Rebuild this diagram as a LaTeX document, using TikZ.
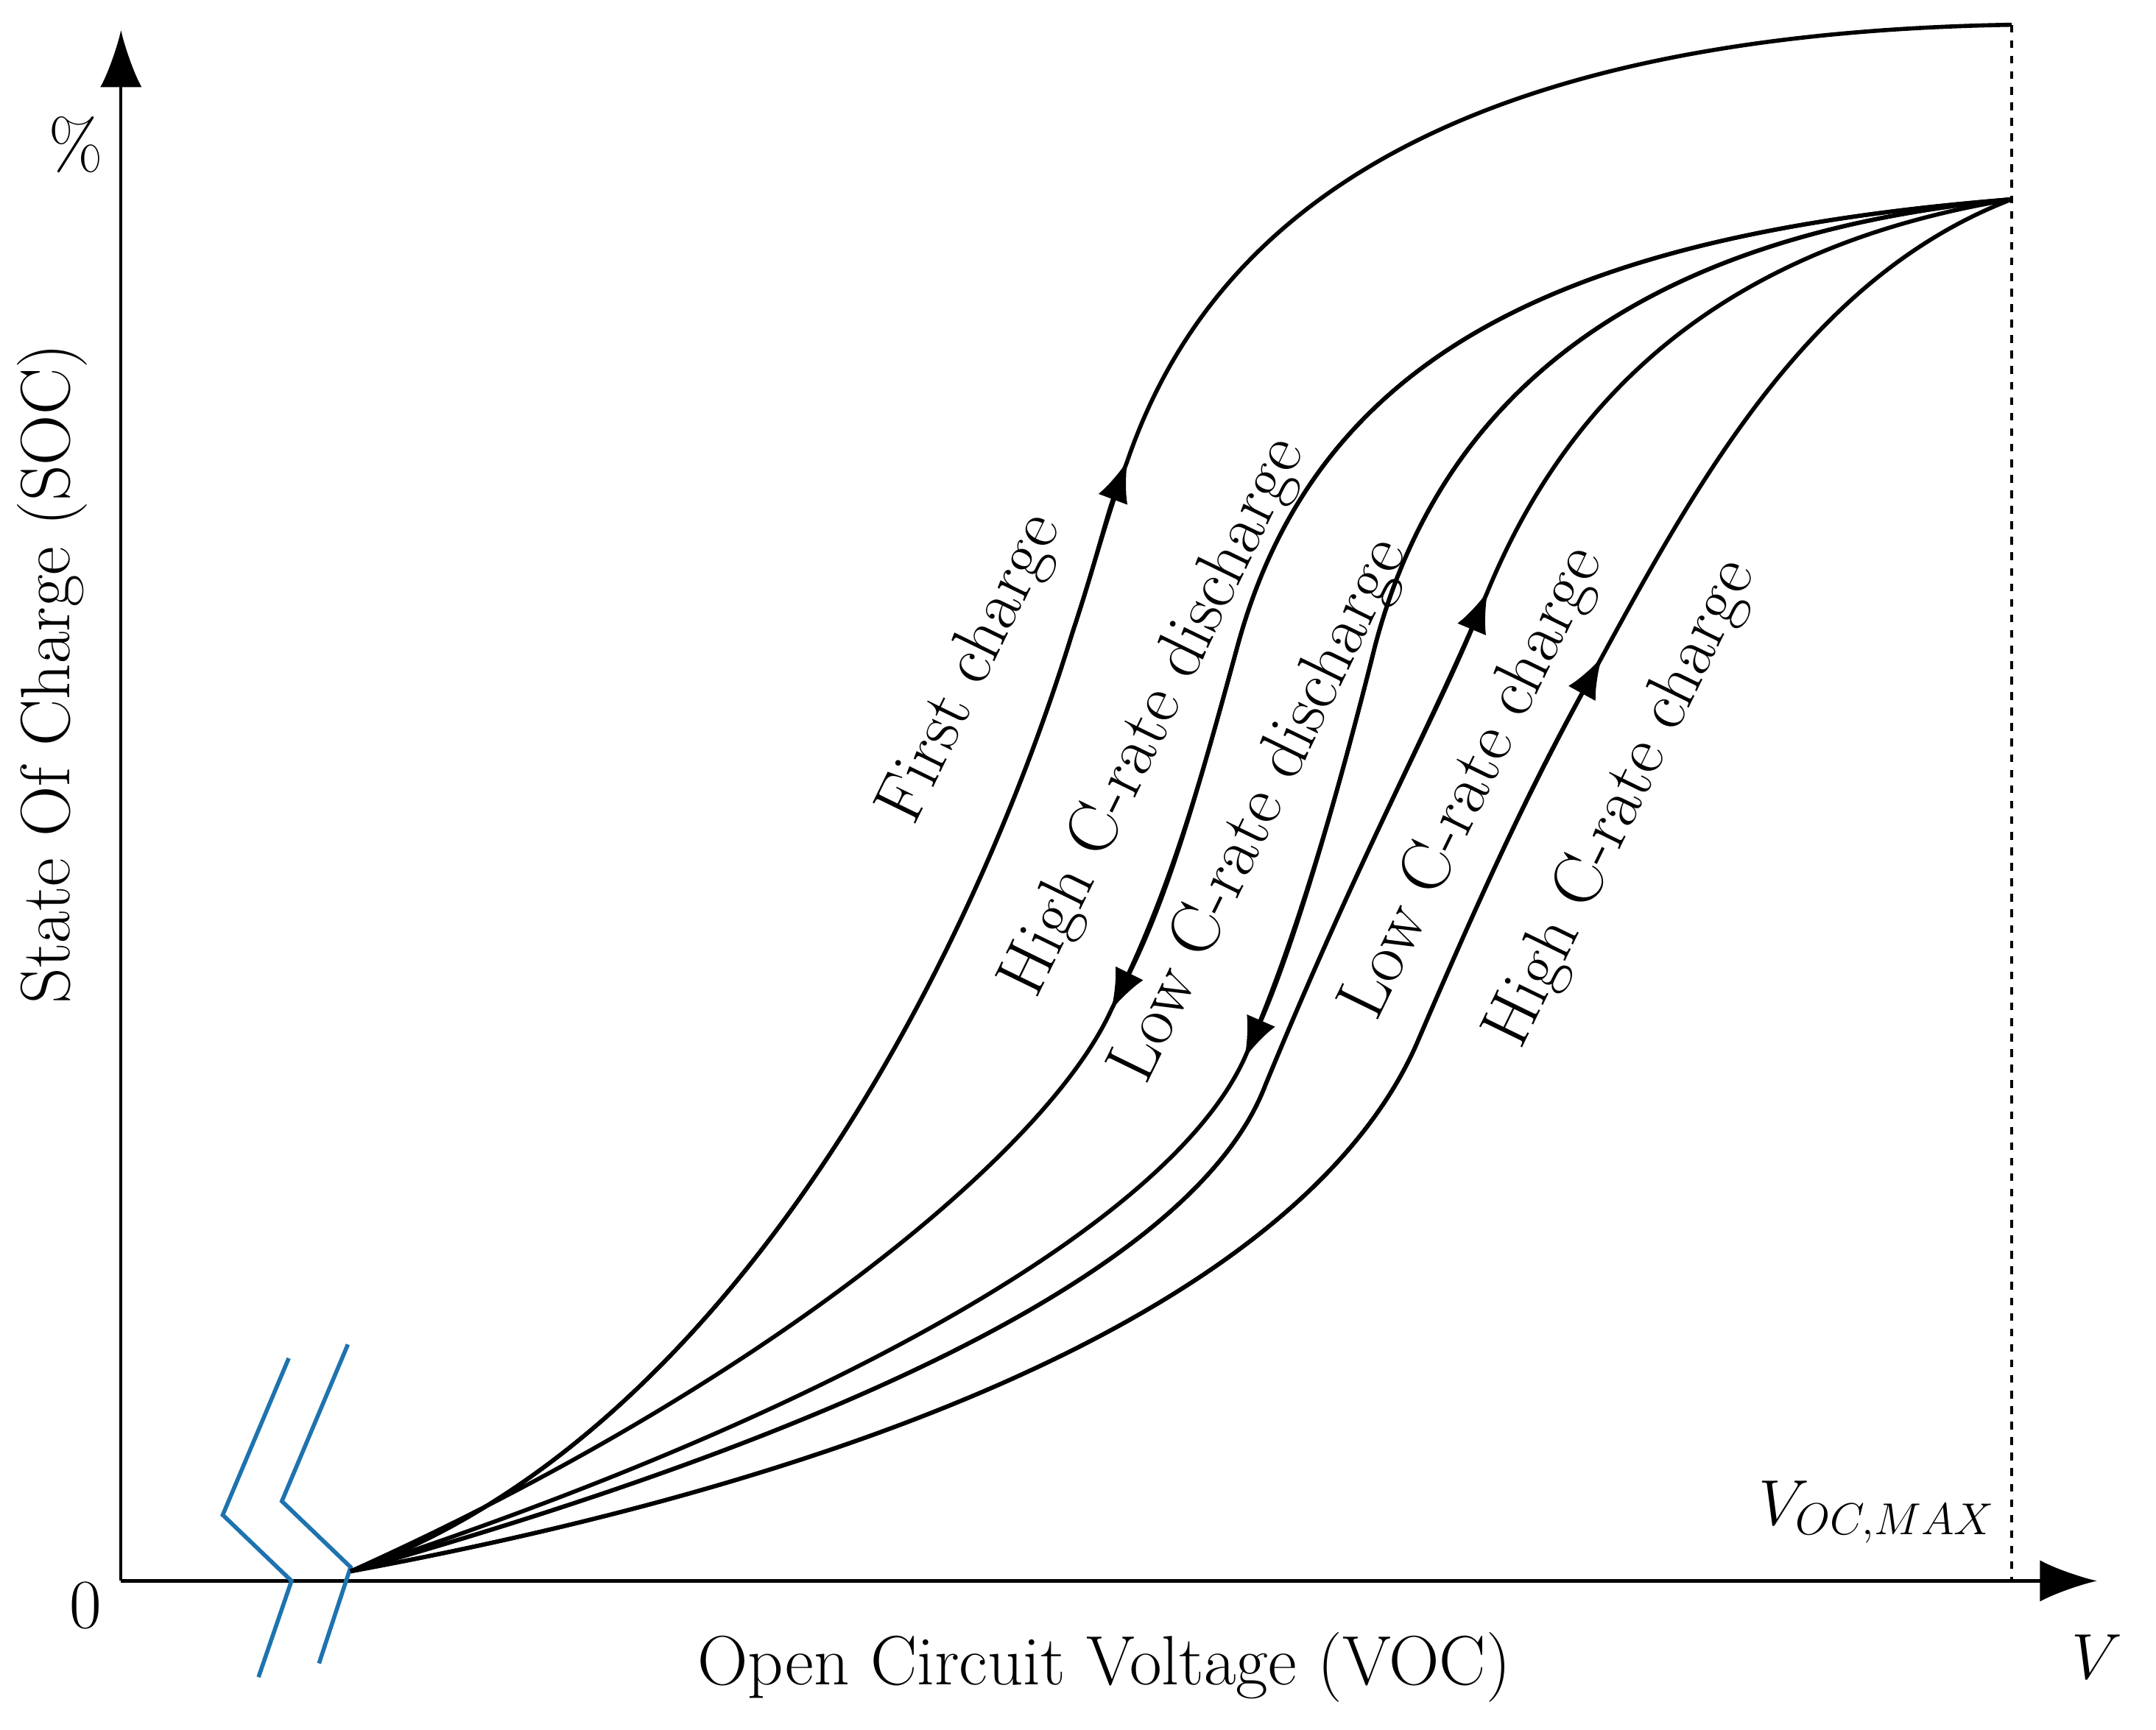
\documentclass[tikz,border=0pt]{standalone}
\usetikzlibrary{arrows.meta}
\begin{document}
\begin{tikzpicture}[x=0.01867cm,y=-0.01867cm,
  curve/.style={line width=1.6pt},
  tip/.style={curve,preaction={draw,line width=1.6pt,arrows=-},-{Latex[length=16pt,width=12pt]}},
  lab/.style={font=\fontsize{27}{32}\selectfont}]
\useasboundingbox (0,0) rectangle (1568,1258);
\coordinate (O) at (88,1150);
\coordinate (Y) at (88,22);
\coordinate (X) at (1525,1150);
\coordinate (S) at (255,1143);
\coordinate (T1) at (1463,18);
\coordinate (T) at (1463,145);
\draw[line width=1.2pt,-{Latex[length=22pt,width=16pt]}] (O) -- (Y);
\draw[line width=1.2pt,-{Latex[length=22pt,width=16pt]}] (O) -- (X);
\draw[dashed,line width=0.9pt] (T1) -- (1463,1150);
\node[lab] (pct) at (55,105) {\%};
\node[lab] (zero) at (62,1168) {0};
\node[lab] (v) at (1525,1205) {$V$};
\node[lab] (xl) at (803,1213) {Open Circuit Voltage (VOC)};
\node[lab,rotate=90] (yl) at (38,490) {State Of Charge (SOC)};
\node[lab] (vmax) at (1365,1100) {$V_{OC,MAX}$};
\draw[line width=1.6pt,color={rgb,255:red,30;green,115;blue,175}] (210,988) -- (162,1102) -- (212,1150) -- (188,1220);
\draw[line width=1.6pt,color={rgb,255:red,30;green,115;blue,175}] (253,978) -- (205,1092) -- (255,1140) -- (232,1210);
% First charge
\coordinate (a1) at (820,335);
\draw[tip] (S) .. controls (520,1050) and (700,720) .. (780,460) .. controls (795,415) and (805,375) .. (a1);
\draw[curve] (a1) .. controls (880,160) and (1050,25) .. (T1);
% High C-rate discharge
\coordinate (a2) at (808,735);
\draw[tip] (T) .. controls (1150,170) and (960,250) .. (900,470) .. controls (870,580) and (850,650) .. (a2);
\draw[curve] (a2) .. controls (760,840) and (550,1010) .. (S);
% Low C-rate discharge
\coordinate (a3) at (905,770);
\draw[tip] (T) .. controls (1200,170) and (1050,280) .. (1000,470) .. controls (970,590) and (940,690) .. (a3);
\draw[curve] (a3) .. controls (850,890) and (600,1030) .. (S);
% Low C-rate charge
\coordinate (a4) at (1082,430);
\draw[tip] (S) .. controls (620,1040) and (870,920) .. (920,790) .. controls (990,620) and (1040,530) .. (a4);
\draw[curve] (a4) .. controls (1140,290) and (1250,180) .. (T);
% High C-rate charge
\coordinate (a5) at (1165,478);
\draw[tip] (S) .. controls (650,1070) and (950,940) .. (1030,760) .. controls (1090,620) and (1120,560) .. (a5);
\draw[curve] (a5) .. controls (1240,340) and (1320,200) .. (T);
\node[lab,rotate=64] (l1) at (707,487) {First charge};
\node[lab,rotate=64] (l2) at (840,522) {High C-rate discharge};
\node[lab,rotate=64] (l3) at (917,590) {Low C-rate discharge};
\node[lab,rotate=64] (l4) at (1072,570) {Low C-rate charge};
\node[lab,rotate=64] (l5) at (1180,585) {High C-rate charge};
\end{tikzpicture}
\end{document}
